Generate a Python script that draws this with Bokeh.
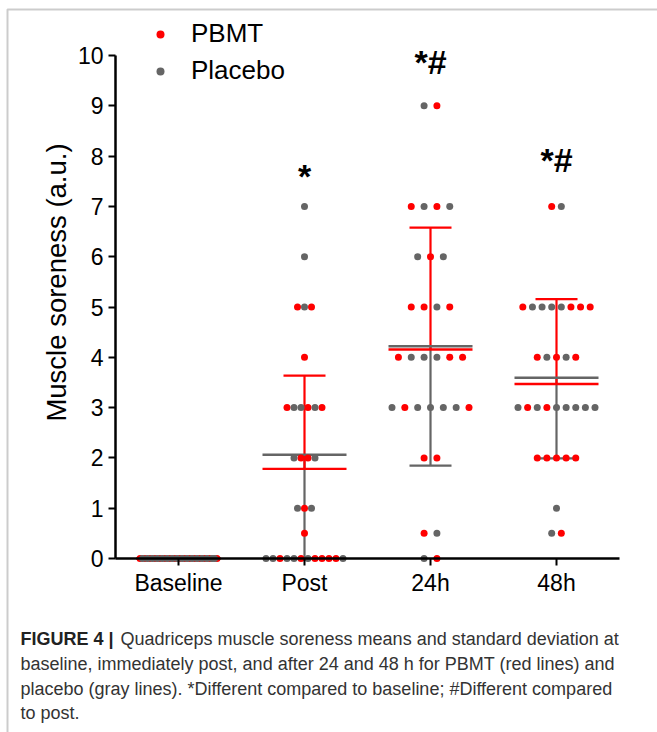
import numpy as np
from bokeh.plotting import figure
from bokeh.models import (ColumnDataSource, FixedTicker, Legend, LegendItem, Label,
                          BoxAnnotation, Range1d)
from bokeh.core.properties import value
from bokeh.embed import file_html
from bokeh.resources import INLINE

# ---------------- data ----------------
categories = ["Baseline", "Post", "24h", "48h"]
group_names = {"A": "PBMT", "B": "Placebo"}

# observations per time point, listed row by row (top to bottom, left to right)
baseline_values = [0, 0, 0, 0, 0, 0, 0, 0, 0, 0, 0, 0, 0, 0, 0, 0,
                   0, 0, 0, 0, 0, 0, 0, 0, 0, 0, 0, 0, 0, 0, 0, 0]
baseline_groups = "ABABABABABABABAB" + "ABABABABABABABBA"

post_values = [7, 6, 5, 5, 5, 4, 3, 3, 3, 3, 3, 3, 2, 2, 2, 2, 1, 1, 1, 0.5,
               0, 0, 0, 0, 0, 0, 0, 0, 0, 0, 0, 0]
post_groups = "B" + "B" + "ABA" + "A" + "ABBABA" + "BAAB" + "BAB" + "A" + "BBABBABAAAAB"

h24_values = [9, 9, 7, 7, 7, 7, 6, 6, 6, 5, 5, 5, 5, 4, 4, 4, 4, 4, 4,
              3, 3, 3, 3, 3, 3, 3, 2, 2, 0.5, 0.5, 0, 0]
h24_groups = "BA" + "ABAB" + "BAB" + "AABA" + "ABBBAA" + "BABBBBA" + "AA" + "AB" + "BA"

h48_values = [7, 7, 5, 5, 5, 5, 5, 5, 5, 5, 4, 4, 4, 4, 4,
              3, 3, 3, 3, 3, 3, 3, 3, 3, 2, 2, 2, 2, 2, 1, 0.5, 0.5]
h48_groups = "AB" + "ABBBBAAA" + "ABABA" + "BABABBBBB" + "AAAAA" + "B" + "BA"

all_values = [baseline_values, post_values, h24_values, h48_values]
all_groups = [baseline_groups, post_groups, h24_groups, h48_groups]

sig_text = ["", "*", "*#", "*#"]
sig_level = [np.nan, 7.6, 9.88, 7.93]

y_title = "Muscle soreness (a.u.)"
caption_bold = "FIGURE 4 |"
caption_lines = [
    "Quadriceps muscle soreness means and standard deviation at",
    "baseline, immediately post, and after 24 and 48 h for PBMT (red lines) and",
    "placebo (gray lines). *Different compared to baseline; #Different compared",
    "to post.",
]

# ---------------- styling / layout ----------------
W, H = 657, 732
RED = "#ff0000"
GRAY = "#656565"
FONT = "Liberation Sans"
AXIS_X_PX = 115            # pixel column of the y axis
Y0_PX, Y10_PX = 558, 55    # pixel rows of 0 and 10
PX_PER_X = 126.0           # pixels per category step
PX_PER_Y = (Y0_PX - Y10_PX) / 10.0
SWARM_PX = 77.0            # width of the widest dot row
MEAN_HALF = 42.0 / PX_PER_X
CAP_HALF = 21.0 / PX_PER_X

# ---------------- swarm layout ----------------
pts = {"A": {"x": [], "y": []}, "B": {"x": [], "y": []}}
for ci, (vals, grps) in enumerate(zip(all_values, all_groups)):
    rows = {}
    order = []
    for v, g in zip(vals, grps):
        if v not in rows:
            rows[v] = []
            order.append(v)
        rows[v].append(g)
    nmax = max(len(r) for r in rows.values())
    step = (SWARM_PX / PX_PER_X) / (nmax - 1) if nmax > 1 else 0
    for v in order:
        r = rows[v]
        k = len(r)
        for j, g in enumerate(r):
            pts[g]["x"].append(ci + (j - (k - 1) / 2) * step)
            pts[g]["y"].append(v)

# ---------------- statistics ----------------
stats = {"A": {"mean": [], "sd": []}, "B": {"mean": [], "sd": []}}
for vals, grps in zip(all_values, all_groups):
    for g in "AB":
        arr = np.array([v for v, gg in zip(vals, grps) if gg == g], dtype=float)
        stats[g]["mean"].append(arr.mean())
        stats[g]["sd"].append(arr.std(ddof=1))

xs = np.arange(len(categories), dtype=float)

# ---------------- figure: the frame fills the whole canvas ----------------
x_lo = -0.5 - AXIS_X_PX / PX_PER_X
x_hi = x_lo + W / PX_PER_X
y_hi = Y0_PX / PX_PER_Y
y_lo = y_hi - H / PX_PER_Y
p = figure(width=W, height=H, x_range=Range1d(x_lo, x_hi), y_range=Range1d(y_lo, y_hi),
           output_backend="svg", toolbar_location=None, min_border=0)
p.xgrid.visible = False
p.ygrid.visible = False
p.outline_line_color = None
p.background_fill_color = "white"
p.border_fill_color = "white"

# mean lines and SD whiskers
for g, col, direction in (("B", GRAY, -1), ("A", RED, 1)):
    m = np.array(stats[g]["mean"])
    s = np.array(stats[g]["sd"])
    end = np.maximum(m + direction * s, 0)
    has_bar = s > 0
    p.segment(x0=xs[has_bar], y0=m[has_bar], x1=xs[has_bar], y1=end[has_bar],
              line_color=col, line_width=2.2)
    p.segment(x0=xs[has_bar] - CAP_HALF, y0=end[has_bar], x1=xs[has_bar] + CAP_HALF, y1=end[has_bar],
              line_color=col, line_width=2.2)
for g, col in (("A", RED), ("B", GRAY)):
    m = np.array(stats[g]["mean"])
    p.segment(x0=xs - MEAN_HALF, y0=m, x1=xs + MEAN_HALF, y1=m, line_color=col, line_width=2.4)

# dots
rA = p.scatter(x=pts["A"]["x"], y=pts["A"]["y"], size=7, fill_color=RED, line_color=None)
rB = p.scatter(x=pts["B"]["x"], y=pts["B"]["y"], size=7, fill_color=GRAY, line_color=None)

# significance markers
mask = [t != "" for t in sig_text]
src = ColumnDataSource(dict(x=xs[mask], y=np.array(sig_level)[mask],
                            t=[t for t in sig_text if t]))
p.text(x="x", y="y", text="t", source=src, text_font=value(FONT), text_font_style="bold",
       text_font_size="34px", text_align="center", text_baseline="alphabetic", text_color="black")

# axes drawn at fixed data locations inside the frame
xa = p.xaxis[0]
xa.ticker = FixedTicker(ticks=list(range(len(categories))))
xa.major_label_overrides = {i: c for i, c in enumerate(categories)}
xa.fixed_location = 0
xa.bounds = (-0.5, len(categories) - 0.5)
ya = p.yaxis[0]
ya.ticker = FixedTicker(ticks=list(range(0, 11)))
ya.fixed_location = -0.5
ya.bounds = (0, 10)
for ax in (xa, ya):
    ax.axis_line_width = 2.5
    ax.axis_line_color = "black"
    ax.major_tick_line_width = 2
    ax.major_tick_line_color = "black"
    ax.major_tick_in = 0
    ax.major_tick_out = 7
    ax.minor_tick_line_color = None
    ax.major_label_text_font = FONT
    ax.major_label_text_font_size = "23px"
    ax.major_label_text_color = "black"
xa.major_label_standoff = 4
ya.major_label_standoff = 5

# y axis title
p.add_layout(Label(x=56, y=H - 282, x_units="screen", y_units="screen", text=y_title,
                   angle=np.pi / 2, text_align="center", text_baseline="middle",
                   text_font=FONT, text_font_size="27.5px", text_color="black"))

# legend
legend = Legend(items=[LegendItem(label=group_names["A"], renderers=[rA]),
                       LegendItem(label=group_names["B"], renderers=[rB])],
                location=(150, H - 86), padding=0, margin=0, spacing=6,
                glyph_width=20, glyph_height=30, label_height=30, label_standoff=21,
                label_text_font=FONT, label_text_font_size="26px", label_text_color="black",
                border_line_color=None, background_fill_alpha=0)
p.add_layout(legend)

# caption
cap_y = [638, 663, 688, 712]
p.add_layout(Label(x=20, y=H - cap_y[0], x_units="screen", y_units="screen",
                   text=caption_bold, text_font=FONT, text_font_style="bold",
                   text_font_size="18px", text_baseline="middle", text_color="#222222"))
for i, line in enumerate(caption_lines):
    x0 = 120 if i == 0 else 20
    p.add_layout(Label(x=x0, y=H - cap_y[i], x_units="screen", y_units="screen",
                       text=line, text_font=FONT, text_font_size="18px",
                       text_baseline="middle", text_color="#333333"))

# border of the figure panel (top and left edges)
p.add_layout(BoxAnnotation(left=7, right=W + 50, top=H - 9, bottom=-50,
                           left_units="screen", right_units="screen",
                           top_units="screen", bottom_units="screen",
                           fill_alpha=0, line_color="#555555", line_width=2))

open("out.html", "w").write(file_html(p, INLINE))
